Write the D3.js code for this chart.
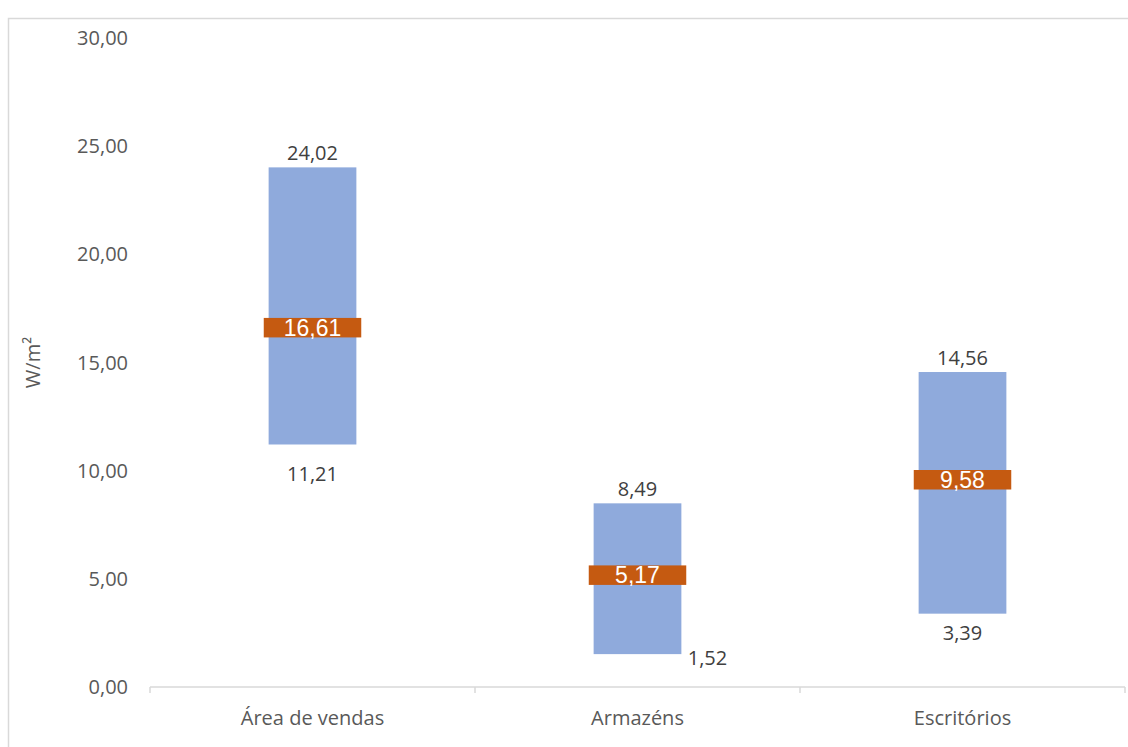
<!DOCTYPE html>
<html><head><meta charset="utf-8">
<script src="https://cdn.jsdelivr.net/npm/d3@7"></script>
<style>body{margin:0;background:#fff}svg{display:block}</style>
</head><body><svg id="c" width="1128" height="747"></svg>
<script>
const categories = ["Área de vendas", "Armazéns", "Escritórios"];
const lowValues = [11.21, 1.52, 3.39];
const highValues = [24.02, 8.49, 14.56];
const midValues = [16.61, 5.17, 9.58];
const yTicks = [0, 5, 10, 15, 20, 25, 30];
const yTitle = "W/m²";

const svg = d3.select("#c");
const fmt = v => d3.format(".2f")(v).replace(".", ",");
const fontUI = "'Open Sans','Noto Sans',sans-serif";

// outer border
svg.append("path").attr("d", "M8.5,747 V18.5 H1128").attr("fill","none").attr("stroke","#d9d9d9").attr("stroke-width",1.5);

const x = d3.scaleBand().domain(categories).range([150, 1125]);
const y = d3.scaleLinear().domain([0, 30]).range([687, 38]);
const barW = x.step() * 0.27;
const midW = x.step() * 0.3;
const midH = 19.5;

// axis line + ticks
svg.append("line").attr("x1",150).attr("x2",1125).attr("y1",y(0)).attr("y2",y(0)).attr("stroke","#d9d9d9").attr("stroke-width",1.5);
const bounds = [150, ...categories.map(c => x(c) + x.step())];
svg.selectAll(".tk").data(bounds).join("line")
  .attr("x1", d=>d).attr("x2", d=>d).attr("y1", y(0)).attr("y2", y(0)+6)
  .attr("stroke","#d9d9d9").attr("stroke-width",1.5);

// y labels
svg.selectAll(".yl").data(yTicks).join("text")
  .attr("x", 128).attr("y", d=>y(d)).attr("dy","0.35em").attr("text-anchor","end")
  .attr("font-family", fontUI).attr("font-size",20).attr("fill","#595959").text(fmt);

// y title
svg.append("text").attr("transform",`translate(40,${y(15)}) rotate(-90)`).attr("text-anchor","middle")
  .attr("font-family", fontUI).attr("font-size",20).attr("fill","#595959").text(yTitle);

// category labels
svg.selectAll(".cl").data(categories).join("text")
  .attr("x", d=>x(d)+x.bandwidth()/2).attr("y", 718).attr("dy","0.35em").attr("text-anchor","middle")
  .attr("font-family", fontUI).attr("font-size",20).attr("fill","#595959").text(d=>d);

const cx = i => x(categories[i]) + x.bandwidth()/2;

// range bars
svg.selectAll(".bar").data(categories).join("rect")
  .attr("x", (d,i)=>cx(i)-barW/2).attr("width", barW)
  .attr("y", (d,i)=>y(highValues[i])).attr("height", (d,i)=>y(lowValues[i])-y(highValues[i]))
  .attr("fill","#8faadc");

// mid markers
svg.selectAll(".mid").data(categories).join("rect")
  .attr("x", (d,i)=>cx(i)-midW/2).attr("width", midW)
  .attr("y", (d,i)=>y(midValues[i])-midH/2).attr("height", midH)
  .attr("fill","#c55a11");
svg.selectAll(".midt").data(categories).join("text")
  .attr("x", (d,i)=>cx(i)).attr("y", (d,i)=>y(midValues[i])).attr("dy","0.36em").attr("text-anchor","middle")
  .attr("font-family","'Liberation Sans',Arial,sans-serif").attr("font-size",23).attr("fill","#fff")
  .text((d,i)=>fmt(midValues[i]));

// high labels
svg.selectAll(".hl").data(categories).join("text")
  .attr("x", (d,i)=>cx(i)).attr("y", (d,i)=>y(highValues[i])-14).attr("dy","0.35em").attr("text-anchor","middle")
  .attr("font-family", fontUI).attr("font-size",20).attr("fill","#404040")
  .text((d,i)=>fmt(highValues[i]));

// low labels (label offsets as placed in the original)
const lowDx = [0, 70, 0], lowDy = [30, 4, 19];
svg.selectAll(".ll").data(categories).join("text")
  .attr("x", (d,i)=>cx(i)+lowDx[i]).attr("y", (d,i)=>y(lowValues[i])+lowDy[i]).attr("dy","0.35em").attr("text-anchor","middle")
  .attr("font-family", fontUI).attr("font-size",20).attr("fill","#404040")
  .text((d,i)=>fmt(lowValues[i]));
</script></body></html>
